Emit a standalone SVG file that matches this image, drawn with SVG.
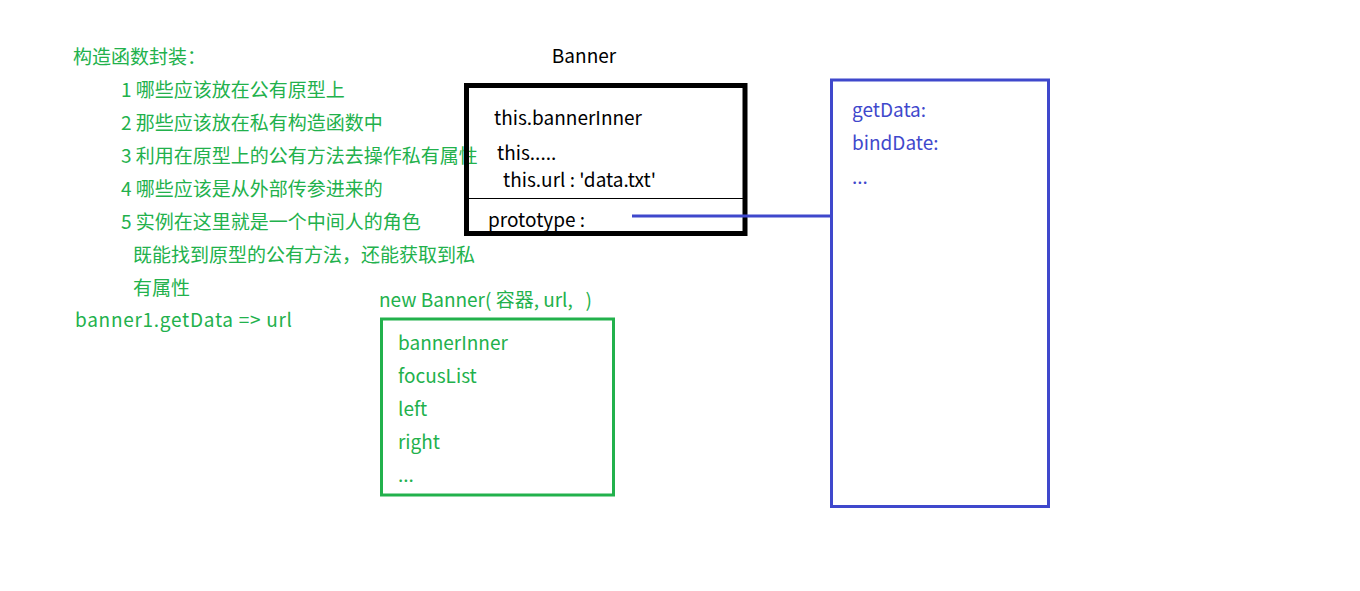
<svg xmlns="http://www.w3.org/2000/svg" width="1360" height="591" viewBox="0 0 1360 591">
<style>
text{font-family:"Noto Sans CJK SC","Noto Sans",sans-serif;font-size:19px;white-space:pre}
.g{fill:#22b14c}
.k{fill:#000}
.b{fill:#3f48cc}
</style>
<rect width="1360" height="591" fill="#fff"/>
<g id="notes">
<text class="g" x="73" y="64">构造函数封装：</text>
<text class="g" x="121" y="97">1 哪些应该放在公有原型上</text>
<text class="g" x="121" y="130">2 那些应该放在私有构造函数中</text>
<text class="g" x="121" y="163">3 利用在原型上的公有方法去操作私有属性</text>
<text class="g" x="121" y="196">4 哪些应该是从外部传参进来的</text>
<text class="g" x="121" y="229">5 实例在这里就是一个中间人的角色</text>
<text class="g" x="133" y="262">既能找到原型的公有方法，还能获取到私</text>
<text class="g" x="133" y="295">有属性</text>
<text class="g" x="75" y="327" textLength="217" lengthAdjust="spacing">banner1.getData =&gt; url</text>
</g>
<g id="banner">
<text class="k" x="584" y="63" text-anchor="middle">Banner</text>
<rect x="466.5" y="85.5" width="278.5" height="148" fill="none" stroke="#000" stroke-width="5"/>
<line x1="469" y1="198.5" x2="743" y2="198.5" stroke="#000" stroke-width="1"/>
<text class="k" x="494" y="125">this.bannerInner</text>
<text class="k" x="497" y="160">this.....</text>
<text class="k" x="503" y="187">this.url : 'data.txt'</text>
<text class="k" x="488" y="227">prototype :</text>
</g>
<g id="instance">
<text class="g" x="379" y="307" xml:space="preserve">new Banner( 容器, url,   )</text>
<rect x="381.5" y="319" width="232" height="176" fill="none" stroke="#22b14c" stroke-width="3"/>
<text class="g" x="398" y="350">bannerInner</text>
<text class="g" x="398" y="383">focusList</text>
<text class="g" x="398" y="416">left</text>
<text class="g" x="398" y="449">right</text>
<text class="g" x="398" y="482">...</text>
</g>
<g id="prototype">
<rect x="831.5" y="80" width="217" height="426.5" fill="none" stroke="#3f48cc" stroke-width="3"/>
<text class="b" x="852" y="117">getData:</text>
<text class="b" x="852" y="150">bindDate:</text>
<text class="b" x="852" y="184">...</text>
</g>
<g id="connectors">
<line x1="632" y1="216" x2="831" y2="216" stroke="#3f48cc" stroke-width="3"/>
</g>
</svg>
